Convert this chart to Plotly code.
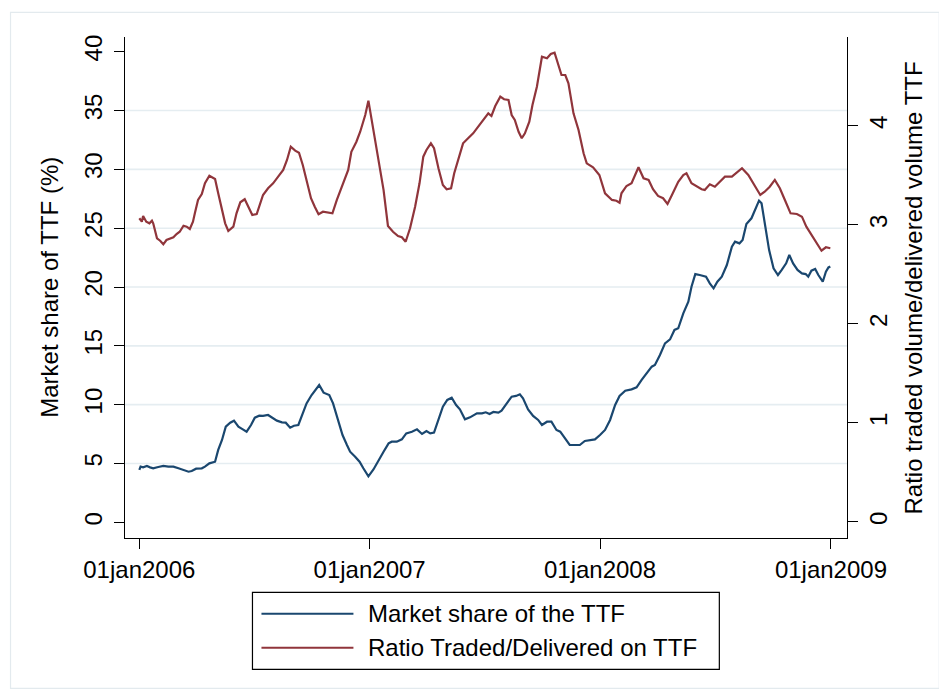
import plotly.graph_objects as go

# ---------------- data ----------------
share_dates = [
    "2006-01-01", "2006-01-03", "2006-01-07", "2006-01-13", "2006-01-18", "2006-01-23", "2006-01-31",
    "2006-02-08", "2006-02-16", "2006-02-24", "2006-03-04", "2006-03-12", "2006-03-20", "2006-03-25",
    "2006-04-01", "2006-04-10", "2006-04-15", "2006-04-22", "2006-05-01", "2006-05-06", "2006-05-12",
    "2006-05-18", "2006-05-25", "2006-05-31", "2006-06-07", "2006-06-14", "2006-06-20", "2006-06-27",
    "2006-07-03", "2006-07-10", "2006-07-16", "2006-07-24", "2006-07-31", "2006-08-07", "2006-08-15",
    "2006-08-21", "2006-08-28", "2006-09-03", "2006-09-10", "2006-09-17", "2006-09-23", "2006-10-01",
    "2006-10-08", "2006-10-13", "2006-10-20", "2006-10-29", "2006-11-04", "2006-11-12", "2006-11-19",
    "2006-11-26", "2006-12-01", "2006-12-09", "2006-12-16", "2006-12-22", "2006-12-30", "2007-01-07",
    "2007-01-15", "2007-01-23", "2007-01-31", "2007-02-05", "2007-02-13", "2007-02-21", "2007-02-28",
    "2007-03-09", "2007-03-17", "2007-03-25", "2007-04-01", "2007-04-07", "2007-04-13", "2007-04-20",
    "2007-04-27", "2007-05-04", "2007-05-11", "2007-05-18", "2007-05-24", "2007-06-01", "2007-06-09",
    "2007-06-20", "2007-06-28", "2007-07-04", "2007-07-10", "2007-07-16", "2007-07-24", "2007-07-29",
    "2007-08-06", "2007-08-14", "2007-08-21", "2007-08-27", "2007-09-01", "2007-09-09", "2007-09-17",
    "2007-09-25", "2007-10-01", "2007-10-09", "2007-10-16", "2007-10-24", "2007-10-30", "2007-11-07",
    "2007-11-14", "2007-11-22", "2007-11-30", "2007-12-08", "2007-12-16", "2007-12-24", "2008-01-01",
    "2008-01-09", "2008-01-17", "2008-01-25", "2008-02-01", "2008-02-10", "2008-02-20", "2008-02-28",
    "2008-03-07", "2008-03-15", "2008-03-23", "2008-03-28", "2008-04-05", "2008-04-13", "2008-04-21",
    "2008-04-28", "2008-05-04", "2008-05-12", "2008-05-20", "2008-05-25", "2008-05-31", "2008-06-07",
    "2008-06-17", "2008-06-23", "2008-06-29", "2008-07-05", "2008-07-12", "2008-07-20", "2008-07-28",
    "2008-08-02", "2008-08-09", "2008-08-14", "2008-08-20", "2008-08-28", "2008-09-03", "2008-09-09",
    "2008-09-13", "2008-09-18", "2008-09-25", "2008-10-02", "2008-10-09", "2008-10-15", "2008-10-22",
    "2008-10-27", "2008-11-02", "2008-11-09", "2008-11-16", "2008-11-22", "2008-11-26", "2008-12-01",
    "2008-12-07", "2008-12-12", "2008-12-19", "2008-12-24", "2008-12-28", "2008-12-31",
]
share_values = [
    4.45, 4.73, 4.67, 4.79, 4.67, 4.59, 4.70,
    4.79, 4.73, 4.73, 4.59, 4.45, 4.30, 4.36,
    4.56, 4.59, 4.73, 5.01, 5.15, 6.15, 7.00,
    8.13, 8.47, 8.64, 8.13, 7.90, 7.70, 8.27,
    8.89, 9.06, 9.04, 9.12, 8.84, 8.64, 8.50,
    8.47, 8.04, 8.21, 8.27, 9.26, 10.11, 10.82,
    11.30, 11.67, 11.02, 10.82, 10.11, 8.55, 7.42,
    6.57, 6.00, 5.58, 5.15, 4.59, 3.91, 4.49,
    5.30, 6.00, 6.71, 6.85, 6.85, 7.05, 7.56,
    7.70, 7.90, 7.51, 7.76, 7.56, 7.62, 8.70,
    9.83, 10.40, 10.59, 9.97, 9.60, 8.75, 8.92,
    9.26, 9.26, 9.35, 9.21, 9.38, 9.32, 9.49,
    10.11, 10.68, 10.74, 10.88, 10.54, 9.60, 9.04,
    8.70, 8.27, 8.55, 8.55, 7.85, 7.70, 7.05,
    6.57, 6.57, 6.57, 6.91, 7.00, 7.05, 7.42,
    7.85, 8.70, 9.97, 10.74, 11.19, 11.30, 11.47,
    12.10, 12.66, 13.23, 13.37, 14.22, 15.21, 15.55,
    16.35, 16.49, 17.76, 18.75, 20.03, 21.10, 21.02,
    20.88, 20.31, 19.89, 20.45, 20.88, 21.87, 23.43,
    23.85, 23.71, 23.99, 25.35, 25.84, 26.54, 27.34,
    27.11, 25.41, 23.14, 21.59, 21.02, 21.45, 22.01,
    22.72, 22.01, 21.45, 21.16, 21.10, 20.88, 21.39,
    21.53, 21.02, 20.45, 21.30, 21.67, 21.73,
]

ratio_dates = [
    "2006-01-01", "2006-01-05", "2006-01-07", "2006-01-12", "2006-01-17", "2006-01-21", "2006-01-23",
    "2006-01-29", "2006-02-03", "2006-02-08", "2006-02-13", "2006-02-19", "2006-02-24", "2006-03-01",
    "2006-03-06", "2006-03-12", "2006-03-17", "2006-03-22", "2006-03-27", "2006-03-30", "2006-04-04",
    "2006-04-10", "2006-04-15", "2006-04-22", "2006-05-01", "2006-05-06", "2006-05-12", "2006-05-17",
    "2006-05-22", "2006-05-30", "2006-06-04", "2006-06-10", "2006-06-17", "2006-06-23", "2006-06-29",
    "2006-07-06", "2006-07-11", "2006-07-16", "2006-07-24", "2006-08-01", "2006-08-09", "2006-08-17",
    "2006-08-23", "2006-08-29", "2006-09-05", "2006-09-11", "2006-09-17", "2006-09-23", "2006-09-30",
    "2006-10-06", "2006-10-12", "2006-10-19", "2006-10-27", "2006-11-03", "2006-11-10", "2006-11-18",
    "2006-11-28", "2006-12-03", "2006-12-11", "2006-12-17", "2006-12-25", "2006-12-30", "2007-01-07",
    "2007-01-15", "2007-01-23", "2007-01-30", "2007-02-07", "2007-02-15", "2007-02-21", "2007-02-27",
    "2007-03-06", "2007-03-14", "2007-03-21", "2007-03-27", "2007-04-01", "2007-04-08", "2007-04-13",
    "2007-04-20", "2007-04-27", "2007-05-03", "2007-05-10", "2007-05-15", "2007-05-21", "2007-05-29",
    "2007-06-06", "2007-06-14", "2007-06-22", "2007-06-30", "2007-07-08", "2007-07-13", "2007-07-19",
    "2007-07-27", "2007-08-02", "2007-08-09", "2007-08-14", "2007-08-19", "2007-08-25", "2007-08-30",
    "2007-09-04", "2007-09-11", "2007-09-16", "2007-09-23", "2007-10-01", "2007-10-09", "2007-10-15",
    "2007-10-21", "2007-10-25", "2007-11-01", "2007-11-07", "2007-11-12", "2007-11-20", "2007-11-28",
    "2007-12-06", "2007-12-11", "2007-12-21", "2007-12-31", "2008-01-09", "2008-01-20", "2008-01-27",
    "2008-02-01", "2008-02-04", "2008-02-12", "2008-02-20", "2008-02-25", "2008-03-02", "2008-03-10",
    "2008-03-18", "2008-03-25", "2008-04-02", "2008-04-10", "2008-04-17", "2008-04-24", "2008-05-04",
    "2008-05-12", "2008-05-17", "2008-05-25", "2008-06-02", "2008-06-10", "2008-06-15", "2008-06-23",
    "2008-07-01", "2008-07-09", "2008-07-17", "2008-07-28", "2008-08-05", "2008-08-13", "2008-08-23",
    "2008-08-31", "2008-09-11", "2008-09-18", "2008-09-26", "2008-10-04", "2008-10-12", "2008-10-20",
    "2008-10-29", "2008-11-08", "2008-11-16", "2008-11-23", "2008-12-04", "2008-12-12", "2008-12-17",
    "2008-12-24", "2008-12-31",
]
ratio_values = [
    3.068, 3.033, 3.091, 3.033, 3.017, 3.043, 3.017,
    2.866, 2.841, 2.805, 2.848, 2.866, 2.876, 2.909,
    2.932, 2.993, 2.983, 2.960, 3.033, 3.118, 3.253,
    3.313, 3.421, 3.498, 3.465, 3.320, 3.169, 3.017,
    2.939, 2.983, 3.118, 3.229, 3.260, 3.185, 3.101,
    3.111, 3.219, 3.303, 3.371, 3.421, 3.488, 3.556,
    3.657, 3.791, 3.751, 3.730, 3.606, 3.455, 3.270,
    3.185, 3.108, 3.134, 3.124, 3.118, 3.253, 3.387,
    3.556, 3.740, 3.841, 3.942, 4.111, 4.256, 3.960,
    3.677, 3.354, 2.990, 2.932, 2.889, 2.876, 2.831,
    2.967, 3.185, 3.421, 3.690, 3.758, 3.825, 3.775,
    3.573, 3.404, 3.361, 3.371, 3.522, 3.657, 3.825,
    3.876, 3.926, 3.993, 4.061, 4.128, 4.101, 4.202,
    4.296, 4.270, 4.263, 4.111, 4.061, 3.942, 3.876,
    3.926, 4.043, 4.212, 4.397, 4.700, 4.684, 4.727,
    4.741, 4.650, 4.515, 4.515, 4.431, 4.128, 3.960,
    3.724, 3.623, 3.583, 3.505, 3.320, 3.253, 3.245,
    3.225, 3.320, 3.394, 3.421, 3.488, 3.583, 3.472,
    3.455, 3.361, 3.293, 3.270, 3.212, 3.303, 3.437,
    3.505, 3.522, 3.421, 3.394, 3.361, 3.354, 3.411,
    3.387, 3.437, 3.488, 3.488, 3.528, 3.573, 3.505,
    3.421, 3.303, 3.336, 3.387, 3.455, 3.371, 3.253,
    3.118, 3.111, 3.084, 2.983, 2.866, 2.781, 2.740,
    2.775, 2.765,
]

x_tick_dates = ["2006-01-01", "2007-01-01", "2008-01-01", "2009-01-01"]
x_tick_labels = ["01jan2006", "01jan2007", "01jan2008", "01jan2009"]
left_ticks = [0, 5, 10, 15, 20, 25, 30, 35, 40]
right_ticks = [0, 1, 2, 3, 4]

share_name = "Market share of the TTF"
ratio_name = "Ratio Traded/Delivered on TTF"
left_title = "Market share of TTF (%)"
right_title = "Ratio traded volume/delivered volume TTF"

# ---------------- styling ----------------
W, H = 947, 695
OFF = 8  # page body margin of the html page
ML, MR, MT, MB = 116.5, 108.3, 28.7, 165.3
PW, PH = W - ML - MR, H - MT - MB
FONT = "Liberation Sans, Arial, sans-serif"
NAVY = "#1a476f"
MAROON = "#90353b"
GRID = "#e5edf1"
TICK_SIZE = 24


def px_x(px):
    """screen pixel -> paper x"""
    return (px - OFF - ML) / PW


def px_y(py):
    """screen pixel -> paper y"""
    return (H - MB - (py - OFF)) / PH


fig = go.Figure()
fig.add_trace(go.Scatter(x=share_dates, y=share_values, mode="lines", name=share_name,
                         line=dict(color=NAVY, width=2.2), yaxis="y", showlegend=False))
fig.add_trace(go.Scatter(x=ratio_dates, y=ratio_values, mode="lines", name=ratio_name,
                         line=dict(color=MAROON, width=2.2), yaxis="y2", showlegend=False))

shapes = []
for v in left_ticks[1:-1]:
    shapes.append(dict(type="line", xref="paper", yref="y", x0=0, x1=1, y0=v, y1=v,
                       line=dict(color=GRID, width=1.6), layer="below"))
shapes.append(dict(type="rect", xref="paper", yref="paper",
                   x0=px_x(10), x1=px_x(939), y0=px_y(12), y1=px_y(688),
                   line=dict(color="#e3eaee", width=1.2), layer="below"))
shapes.append(dict(type="rect", xref="paper", yref="paper",
                   x0=px_x(252), x1=px_x(719), y0=px_y(592), y1=px_y(669),
                   line=dict(color="black", width=1.2), fillcolor="white"))
legend_rows = [(share_name, NAVY, 613.5), (ratio_name, MAROON, 647.5)]
annotations = []
for name, col, yy in legend_rows:
    shapes.append(dict(type="line", xref="paper", yref="paper",
                       x0=px_x(261), x1=px_x(353), y0=px_y(yy), y1=px_y(yy),
                       line=dict(color=col, width=2)))
    annotations.append(dict(text=name, xref="paper", yref="paper", x=px_x(366), y=px_y(yy),
                            xanchor="left", yanchor="middle", showarrow=False,
                            font=dict(family=FONT, size=24, color="black")))
# axis titles
annotations.append(dict(text=left_title, xref="paper", yref="paper", x=px_x(48.7), y=0.5,
                        xanchor="center", yanchor="middle", textangle=-90, showarrow=False,
                        font=dict(family=FONT, size=24, color="black")))
annotations.append(dict(text=right_title, xref="paper", yref="paper", x=px_x(913.7), y=0.5,
                        xanchor="center", yanchor="middle", textangle=-90, showarrow=False,
                        font=dict(family=FONT, size=24, color="black")))

axis_common = dict(showgrid=False, zeroline=False, showline=True, linecolor="black",
                   linewidth=1.3, ticks="outside", ticklen=10, tickwidth=1.3,
                   tickcolor="black", tickfont=dict(family=FONT, size=TICK_SIZE, color="black"))

fig.update_layout(
    width=W, height=H,
    margin=dict(l=ML, r=MR, t=MT, b=MB, autoexpand=False),
    paper_bgcolor="white", plot_bgcolor="white",
    font=dict(family=FONT, color="black"),
    xaxis=dict(type="date", range=["2005-12-09 07:00", "2009-01-26 10:00"],
               tickvals=x_tick_dates, ticktext=x_tick_labels, **axis_common),
    yaxis=dict(range=[-1.334, 41.25], tickvals=left_ticks, tickangle=-90,
               ticklabelstandoff=2, **axis_common),
    yaxis2=dict(range=[-0.162, 4.899], tickvals=right_ticks, tickangle=-90,
                overlaying="y", side="right", ticklabelstandoff=0, **axis_common),
    shapes=shapes,
    annotations=annotations,
)

fig.write_html("out.html")
